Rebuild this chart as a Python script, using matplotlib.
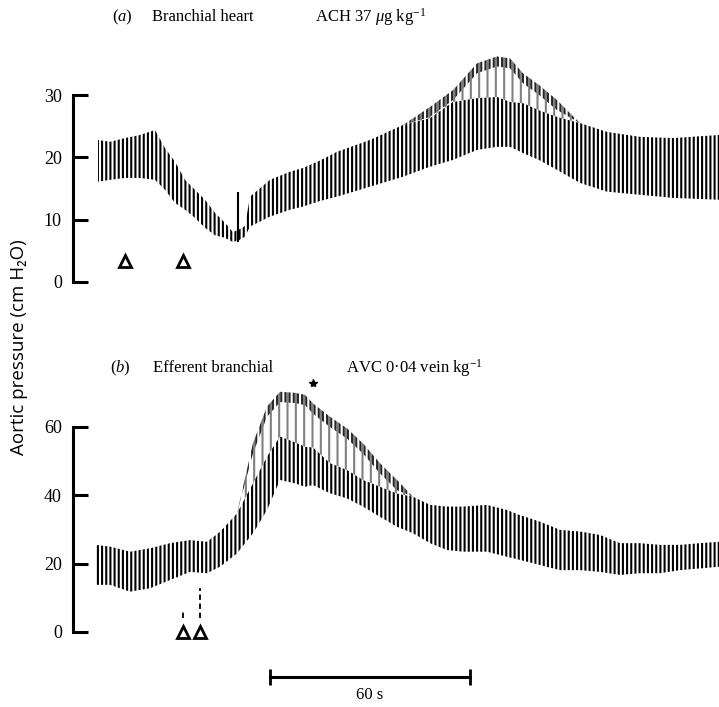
import numpy as np
import matplotlib.pyplot as plt

plt.rcParams['font.family'] = 'Liberation Serif'
plt.rcParams['mathtext.fontset'] = 'custom'
plt.rcParams['mathtext.rm'] = 'Liberation Serif'
plt.rcParams['mathtext.it'] = 'Liberation Serif:italic'
plt.rcParams['hatch.linewidth'] = 1.5

# (a) branchial heart, ACH -- time (s) from start of record, pressure cm H2O
a_t = [0, 3.6, 8.1, 12.6, 17.1, 20.1, 23.1, 26.1, 29.1, 32.1, 35.1, 38.1, 40.5, 42.6, 44.1, 45.6,
       51.6, 57.6, 61.5, 66.6, 71.7, 81.6, 91.5, 99.6, 106.5, 113.7, 119.7, 123.6, 127.5, 132.6,
       137.7, 144.6, 152.7, 162.6, 172.5, 186.3]
a_sys = [22.8, 22.5, 23.1, 23.6, 24.4, 21.5, 19.3, 16.4, 14.8, 13.2, 11.1, 9.5, 8.0, 8.5, 9.0, 13.7,
         16.4, 17.7, 18.3, 19.5, 20.9, 22.8, 25.2, 26.3, 28.9, 29.5, 29.7, 28.9, 28.7, 27.5,
         26.5, 25.5, 24.1, 23.3, 23.1, 23.6]
a_dia = [16.1, 16.4, 16.7, 16.7, 16.4, 14.8, 12.7, 11.6, 10.3, 8.7, 7.5, 7.1, 6.4, 6.8, 7.3, 8.9,
         10.5, 11.6, 12.1, 13.0, 13.7, 15.3, 16.9, 18.5, 19.6, 21.2, 21.7, 21.7, 20.7, 19.5,
         18.0, 15.9, 14.5, 14.0, 13.5, 13.2]
a_tip = [22.8, 22.5, 23.1, 23.6, 24.4, 21.5, 19.3, 16.4, 14.8, 13.2, 11.1, 9.5, 8.0, 8.5, 9.0, 13.7,
         16.4, 17.7, 18.3, 19.5, 20.9, 22.8, 25.2, 28.1, 30.8, 35.1, 36.2, 35.9, 33.5, 31.5,
         29.2, 25.5, 24.1, 23.3, 23.1, 23.6]
a_spike = (42.0, 6.5, 14.5)
a_marks_t = [8.1, 25.5]
a_marks_y = 3.3

# (b) efferent branchial, AVC
b_t = [-0.9, 3.6, 9.6, 15.6, 21.6, 27.6, 32.7, 36.6, 41.7, 46.5, 50.7, 54.6, 59.1, 62.1, 64.5,
       69.6, 74.7, 79.5, 84.6, 89.7, 94.5, 99.6, 104.7, 109.5, 116.7, 122.7, 126.6, 132.6, 138.6,
       144.6, 150.6, 156.6, 162.6, 168.6, 174.6, 180.6, 186.3]
b_sys = [25.5, 25.0, 23.5, 24.5, 26.0, 26.9, 26.4, 29.3, 34.7, 43.5, 51.3, 57.2, 55.5, 54.2, 54.0,
         49.4, 47.4, 44.5, 42.5, 40.5, 39.6, 37.2, 36.7, 36.7, 37.2, 35.7, 34.2, 32.3, 29.9,
         29.4, 28.4, 26.0, 26.0, 25.5, 25.5, 26.0, 26.4]
b_dia = [13.8, 13.8, 11.8, 12.8, 15.2, 17.6, 17.2, 19.1, 23.0, 28.9, 35.7, 44.5, 43.5, 42.5, 43.0,
         40.6, 39.1, 36.7, 33.7, 30.8, 28.9, 26.0, 24.0, 23.5, 23.5, 22.0, 21.1, 19.6, 18.1,
         18.1, 17.6, 16.7, 17.2, 17.2, 18.1, 18.6, 19.1]
b_tip = [25.5, 25.0, 23.5, 24.5, 26.0, 26.9, 26.4, 29.3, 34.7, 55.3, 66.0, 70.3, 70.0, 69.4, 66.9,
         63.0, 59.6, 55.2, 49.4, 44.5, 39.6, 37.2, 36.7, 36.7, 37.2, 35.7, 34.2, 32.3, 29.9,
         29.4, 28.4, 26.0, 26.0, 25.5, 25.5, 26.0, 26.4]
b_marks_t = [25.5, 30.6]
b_inj_lo = [4.1, 4.1]
b_inj_hi = [6.4, 12.9]
bar_start, bar_len = 51.6, 60

W, H = 719, 707
fig = plt.figure(figsize=(W / 100, H / 100), dpi=100)

def px_axes(left, top, bottom):
    return fig.add_axes([left / W, 1 - bottom / H, (W - left) / W, (bottom - top) / H])

def trace(ax, t, sys, dia, tip, tipw):
    t, sys, dia, tip = map(np.array, (t, sys, dia, tip))
    ax.fill_between(t, dia, sys, facecolor='none', edgecolor='black', lw=0, hatch='||||')
    # sparse pulse tips above the dense band
    ax.fill_between(t, sys, tip, facecolor='none', edgecolor='0.5', lw=0, hatch='||')
    ax.fill_between(t, np.maximum(tip - tipw, sys), tip, facecolor='none', edgecolor='0.15',
                    lw=0, hatch='||||')

def style(ax, top, ticks):
    for s in ['top', 'right', 'bottom']:
        ax.spines[s].set_visible(False)
    ax.spines['left'].set_bounds(0, top)
    ax.spines['left'].set_linewidth(2.2)
    ax.set_xticks([])
    ax.set_yticks(ticks)
    ax.tick_params(axis='y', direction='in', length=11, width=2.2, labelsize=13, pad=8)
    ax.set_xlim(-7.5, 186.3)

ax_a = px_axes(73, 45, 290)
trace(ax_a, a_t, a_sys, a_dia, a_tip, 1.6)
ax_a.vlines(a_spike[0], a_spike[1], a_spike[2], color='black', lw=1.5)
ax_a.plot(a_marks_t, [a_marks_y] * 2, ls='none', marker='^', ms=9, mfc='white', mec='black', mew=2)
ax_a.set_ylim((282 - 290) / 6.23, (282 - 45) / 6.23)
style(ax_a, 30, [0, 10, 20, 30])

ax_b = px_axes(73, 372, 645)
trace(ax_b, b_t, b_sys, b_dia, b_tip, 3.0)
ax_b.vlines(b_marks_t, b_inj_lo, b_inj_hi, color='black', lw=1.3, linestyles=(0, (3, 2)))
ax_b.plot(b_marks_t, [0, 0], ls='none', marker='^', ms=9, mfc='white', mec='black', mew=2,
          clip_on=False)
ax_b.plot([64.5], [73.0], marker='*', ms=6, color='black', clip_on=False)
ax_b.set_ylim((632 - 645) / 3.417, (632 - 372) / 3.417)
style(ax_b, 60, [0, 20, 40, 60])

# 60 s time bar
ax_b.plot([bar_start, bar_start + bar_len], [-13.2, -13.2], color='black', lw=2.2, clip_on=False)
ax_b.vlines([bar_start, bar_start + bar_len], -15.6, -10.8, color='black', lw=2, clip_on=False)
ax_b.text(bar_start + bar_len / 2, -16.0, '60 s', ha='center', va='top', fontsize=12)

fig.text(112 / W, 1 - 17 / H, r'($a$)', fontsize=12, va='center')
fig.text(152 / W, 1 - 17 / H, 'Branchial heart', fontsize=12, va='center')
fig.text(315 / W, 1 - 17 / H, r'ACH 37 $\mu$g kg$^{-1}$', fontsize=12, va='center')
fig.text(110 / W, 1 - 368 / H, r'($b$)', fontsize=12, va='center')
fig.text(153 / W, 1 - 368 / H, 'Efferent branchial', fontsize=12, va='center')
fig.text(346 / W, 1 - 368 / H, r'AVC 0·04 vein kg$^{-1}$', fontsize=12, va='center')

fig.text(19 / W, 1 - 347 / H, 'Aortic pressure (cm H₂O)', family=['Open Sans', 'DejaVu Sans'],
         fontsize=13.5, rotation=90, ha='center', va='center')

fig.savefig('out.png', dpi=100)
